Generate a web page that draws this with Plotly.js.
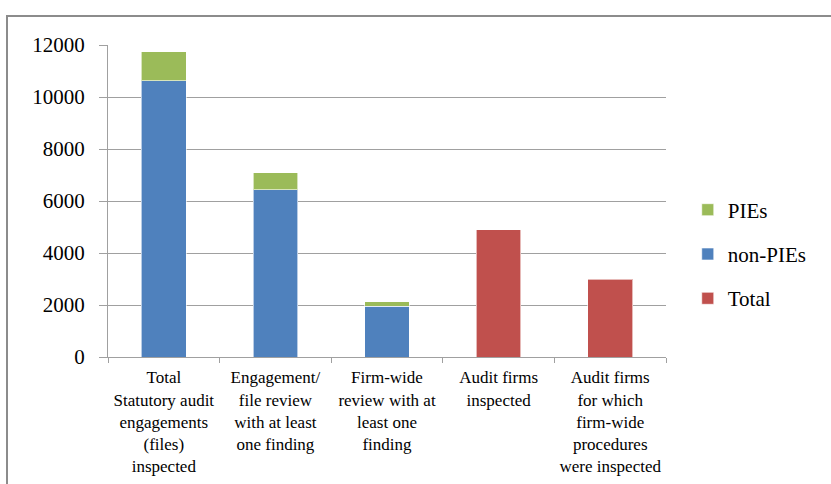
<!DOCTYPE html>
<html><head><meta charset="utf-8">
<script src="https://cdn.plot.ly/plotly-3.0.1.min.js"></script>
<style>
html,body{margin:0;padding:0;background:#fff;}
#frame{position:absolute;left:6px;top:15px;width:830px;height:480px;border-top:2px solid #8c8c8c;border-left:2px solid #8c8c8c;pointer-events:none;z-index:5;}
#chart{width:831px;height:484px;}
</style></head>
<body>
<div id="frame"></div>
<div id="chart"></div>
<script>
const categories = [
  "Total<br>Statutory audit<br>engagements<br>(files)<br>inspected",
  "Engagement/<br>file review<br>with at least<br>one finding",
  "Firm-wide<br>review with at<br>least one<br>finding",
  "Audit firms<br>inspected",
  "Audit firms<br>for which<br>firm-wide<br>procedures<br>were inspected"
];
const nonPIEs = [10620, 6440, 1950, null, null];
const PIEs = [1130, 640, 180, null, null];
const totals = [null, null, null, 4900, 3000];
const yTicks = [0, 2000, 4000, 6000, 8000, 10000, 12000];

const font = "'Liberation Serif', 'Times New Roman', 'DejaVu Serif', serif";
const line = {color: "rgba(255,255,255,0.6)", width: 1};
const data = [
  {type: "bar", name: "non-PIEs", x: categories, y: nonPIEs, marker: {color: "#4F81BD", line: line}, legendrank: 2, legendgroup: "b"},
  {type: "bar", name: "PIEs", x: categories, y: PIEs, marker: {color: "#9BBB59", line: line}, legendrank: 1, legendgroup: "a"},
  {type: "bar", name: "Total", x: categories, y: totals, marker: {color: "#C0504D", line: line}, legendrank: 3, legendgroup: "c"}
];
const layout = {
  width: 831, height: 484,
  margin: {l: 108, r: 165, t: 45, b: 127},
  barmode: "stack",
  bargap: 0.6,
  paper_bgcolor: "#fff", plot_bgcolor: "#fff",
  font: {family: font, color: "#000", size: 17},
  showlegend: true,
  legend: {x: 1.039, xanchor: "left", y: 0.33, yanchor: "middle", traceorder: "grouped", tracegroupgap: 14,
           font: {family: font, size: 21, color: "#000"}, itemwidth: 30},
  xaxis: {type: "category", showline: true, linecolor: "#a0a0a0", linewidth: 1,
          ticks: "outside", tickson: "boundaries", ticklen: 5, tickcolor: "#a0a0a0",
          ticklabelstandoff: 5,
          tickfont: {family: font, size: 17, color: "#000"}, fixedrange: true},
  yaxis: {range: [0, 12000], tickvals: yTicks, ticktext: yTicks.map(String),
          showline: true, linecolor: "#a0a0a0", linewidth: 1,
          ticks: "outside", ticklen: 8, tickcolor: "#a0a0a0", ticklabelstandoff: 10,
          showgrid: true, gridcolor: "#a0a0a0", gridwidth: 1, zeroline: false,
          tickfont: {family: font, size: 21, color: "#000"}, fixedrange: true}
};
Plotly.newPlot("chart", data, layout, {displayModeBar: false, staticPlot: true});
</script>
</body></html>
